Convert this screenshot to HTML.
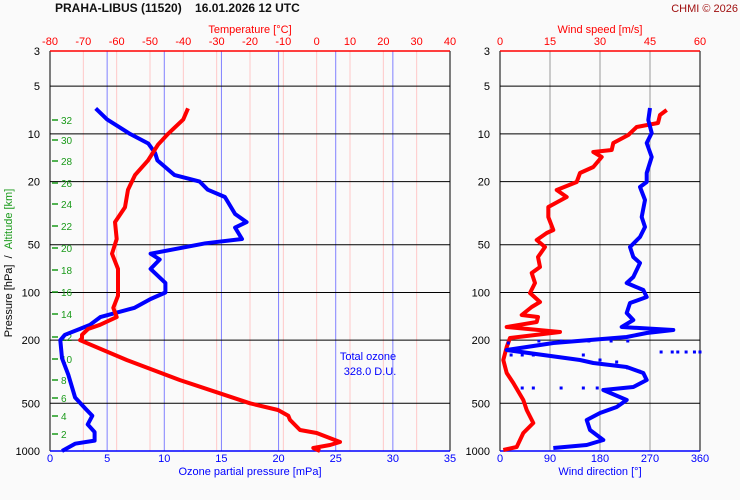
<!DOCTYPE html>
<html><head><meta charset="utf-8"><style>
body{margin:0;background:#fafafa;}
svg{display:block;font-family:"Liberation Sans",sans-serif;}
</style></head><body>
<svg id="c" width="740" height="500"></svg>
<script>
const pressureTicks=[3,5,10,20,50,100,200,500,1000];
const tempTicks=[-80,-70,-60,-50,-40,-30,-20,-10,0,10,20,30,40];
const ozoneTicks=[0,5,10,15,20,25,30,35];
const speedTicks=[0,15,30,45,60];
const dirTicks=[0,90,180,270,360];
const altKm=[2,4,6,8,10,12,14,16,18,20,22,24,26,28,30,32];
const altY=[434,416,398,380,359,337,314,292,270,248,226,204,183,161,140,120];
const ozoneP=[6.9,8.1,10,11.5,13.2,14.7,18.2,20,22.5,25,32,36,39,46,49,57,62,71,87,100,110,125,143,160,170,185,200,260,330,460,540,600,680,760,860,900,1000];
const ozoneV=[4.0,5.0,7.0,8.6,9.2,9.4,10.9,13.1,13.8,15.3,16.2,17.2,16.2,16.8,13.6,8.8,9.6,8.8,10.1,10.1,8.8,7.4,4.4,3.5,2.6,1.3,0.9,1.05,1.6,2.2,3.1,3.7,3.3,3.9,3.9,2.2,1.05];
const tempP=[6.9,8.1,10,11.7,14.7,18.2,22.5,29,36,46,57,71,87,105,125,143,160,170,185,195,200,267,357,500,551,600,637,737,770,877,916,957,1000];
const tempV=[-38.6,-40,-44.6,-47.6,-50.6,-54.5,-56.6,-57.5,-60.5,-60,-61.4,-59.6,-59.6,-59.6,-61,-60,-65,-68.6,-70.4,-70.4,-71,-56.9,-41,-20,-11.6,-8.5,-8,-5,0,7,4,-1,1];
const windSpdY=[110,115,123,127,135,143,150,152,157,167,173,182,190,197,207,217,230,233,240,247,257,267,273,283,293,302,307,315,317,322,327,332,338,347,360,373,383,400,410,423,433,447,450];
const windSpd=[50,48,47.4,41,38.5,34,33.5,28,30.5,28,24,23,17,20,14.5,14.5,16,14,11,13.5,11.4,12,9.5,10.5,9,12,9.5,6.5,11.4,11,2,18,3,2,1,2,4,7,8,10,7,5,1];
const windDirY=[108,120,133,143,157,173,182,187,200,217,227,237,247,257,263,277,283,290,297,303,313,320,327,330,333,337,343,350,360,363,367,373,380,387,390,400,407,413,420,430,440,445,448];
const windDir=[270,267,273,264,273,264,264,252,261,255,261,252,234,240,252,240,228,258,264,234,228,240,219,312,264,228,96,12,144,168,228,258,264,240,186,228,210,180,156,162,186,156,96];
const scatY=[341,341,341,341,341,343,352,352,352,352,352,352,355,355,355,388,388,388,388,388,355,360,362,365,368,371];
const scatD=[70,110,160,200,230,15,290,310,320,335,350,360,20,40,60,40,60,110,150,175,150,180,210,195,230,250];

const svg=document.getElementById('c');
const NS='http://www.w3.org/2000/svg';
const yTop=51,yBot=451;
const yP=p=>yTop+(yBot-yTop)*Math.log(p/3)/Math.log(1000/3);
const xT=t=>50+(t+80)*400/120;
const xO=o=>50+o*400/35;
const xS=s=>500+s*200/60;
const xD=d=>500+d*200/360;
function el(tag,attrs,parent){const e=document.createElementNS(NS,tag);for(const k in attrs)e.setAttribute(k,attrs[k]);(parent||svg).appendChild(e);return e;}
function txt(x,y,s,fill,anchor,size,extra){const t=el('text',Object.assign({x:x,y:y,fill:fill,'text-anchor':anchor||'middle','font-size':size||11},extra||{}));t.textContent=s;return t;}

let t=txt(55,12,'PRAHA-LIBUS (11520)\u00a0\u00a0\u00a0\u00a016.01.2026 12 UTC','#111','start',12,{'font-weight':'bold'});


t=txt(738,12,'CHMI © 2026','#a01010','end',11);



const g1=el('g',{});


tempTicks.slice(1,-1).forEach(v=>el('line',{x1:xT(v),x2:xT(v),y1:yTop,y2:yBot,stroke:'#ffc8c8','stroke-width':1},g1));
ozoneTicks.slice(1,-1).forEach(v=>el('line',{x1:xO(v),x2:xO(v),y1:yTop,y2:yBot,stroke:'#8080ff','stroke-width':1},g1));
pressureTicks.slice(1,-1).forEach(p=>{el('line',{x1:50,x2:450,y1:yP(p),y2:yP(p),stroke:'#000','stroke-width':1},g1);});
const g2=el('g',{});


dirTicks.slice(1,-1).forEach(v=>el('line',{x1:xD(v),x2:xD(v),y1:yTop,y2:yBot,stroke:'#999','stroke-width':1},g2));
pressureTicks.slice(1,-1).forEach(p=>{el('line',{x1:500,x2:700,y1:yP(p),y2:yP(p),stroke:'#000','stroke-width':1},g2);});
[[50,450],[500,700]].forEach(([a,b])=>{
 el('line',{x1:a,x2:a,y1:yTop,y2:yBot,stroke:'#000'});
 el('line',{x1:b,x2:b,y1:yTop,y2:yBot,stroke:'#000'});
 el('line',{x1:a,x2:b,y1:yTop,y2:yTop,stroke:'#f00','stroke-width':1.5});
 el('line',{x1:a,x2:b,y1:yBot,y2:yBot,stroke:'#00f','stroke-width':1.5});
});
pressureTicks.forEach(p=>{
 let a=txt(40,yP(p)+4,String(p),'#000','end',11);
 
 
 let b=txt(490,yP(p)+4,String(p),'#000','end',11);
 
 
});
tempTicks.forEach(v=>{let a=txt(xT(v),45,String(v),'#f00','middle',11);
 
 });
ozoneTicks.forEach(v=>{let a=txt(xO(v),462,String(v),'#00f','middle',11);
 
 });
speedTicks.forEach(v=>{let a=txt(xS(v),45,String(v),'#f00','middle',11);
 
 });
dirTicks.forEach(v=>{let a=txt(xD(v),462,String(v),'#00f','middle',11);
 
 });
t=txt(250,33,'Temperature [°C]','#f00','middle',11);


t=txt(250,475,'Ozone partial pressure [mPa]','#00f','middle',11);


t=txt(600,33,'Wind speed [m/s]','#f00','middle',11);


t=txt(600,475,'Wind direction [°]','#00f','middle',11);


const yt=el('text',{x:0,y:0,'font-size':11,'text-anchor':'middle',transform:'translate(12,263) rotate(-90)'});


const s1=el('tspan',{fill:'#000'},yt);s1.textContent='Pressure [hPa]\u00a0\u00a0/\u00a0\u00a0';
const s2=el('tspan',{fill:'#1a9a1a'},yt);s2.textContent='Altitude [km]';
altKm.forEach((k,i)=>{
 el('line',{x1:52,x2:58,y1:altY[i],y2:altY[i],stroke:'#1a9a1a','stroke-width':1.5});
 let a=txt(61,altY[i]+4,String(k),'#1a9a1a','start',10);
 
 
});
t=txt(368,360,'Total ozone','#00f','middle',11);


t=txt(370,375,'328.0 D.U.','#00f','middle',11);


function line(xs,ys,color,name){
 const pts=xs.map((x,i)=>x.toFixed(1)+','+ys[i].toFixed(1)).join(' ');
 const pl=el('polyline',{points:pts,fill:'none',stroke:color,'stroke-width':4,'stroke-linejoin':'round'});
 
 
}
line(ozoneV.map(xO),ozoneP.map(yP),'#0000ff','ozone-series');
line(tempV.map(xT),tempP.map(yP),'#ff0000','temperature-series');
line(windSpd.map(xS),windSpdY,'#ff0000','wind-speed-series');
line(windDir.map(xD),windDirY,'#0000ff','wind-direction-series');
scatD.forEach((d,i)=>{
 const r=el('rect',{x:xD(d)-1.5,y:scatY[i]-1.5,width:3,height:3,fill:'#0000ff'});
 
 
});
</script>
</body></html>
